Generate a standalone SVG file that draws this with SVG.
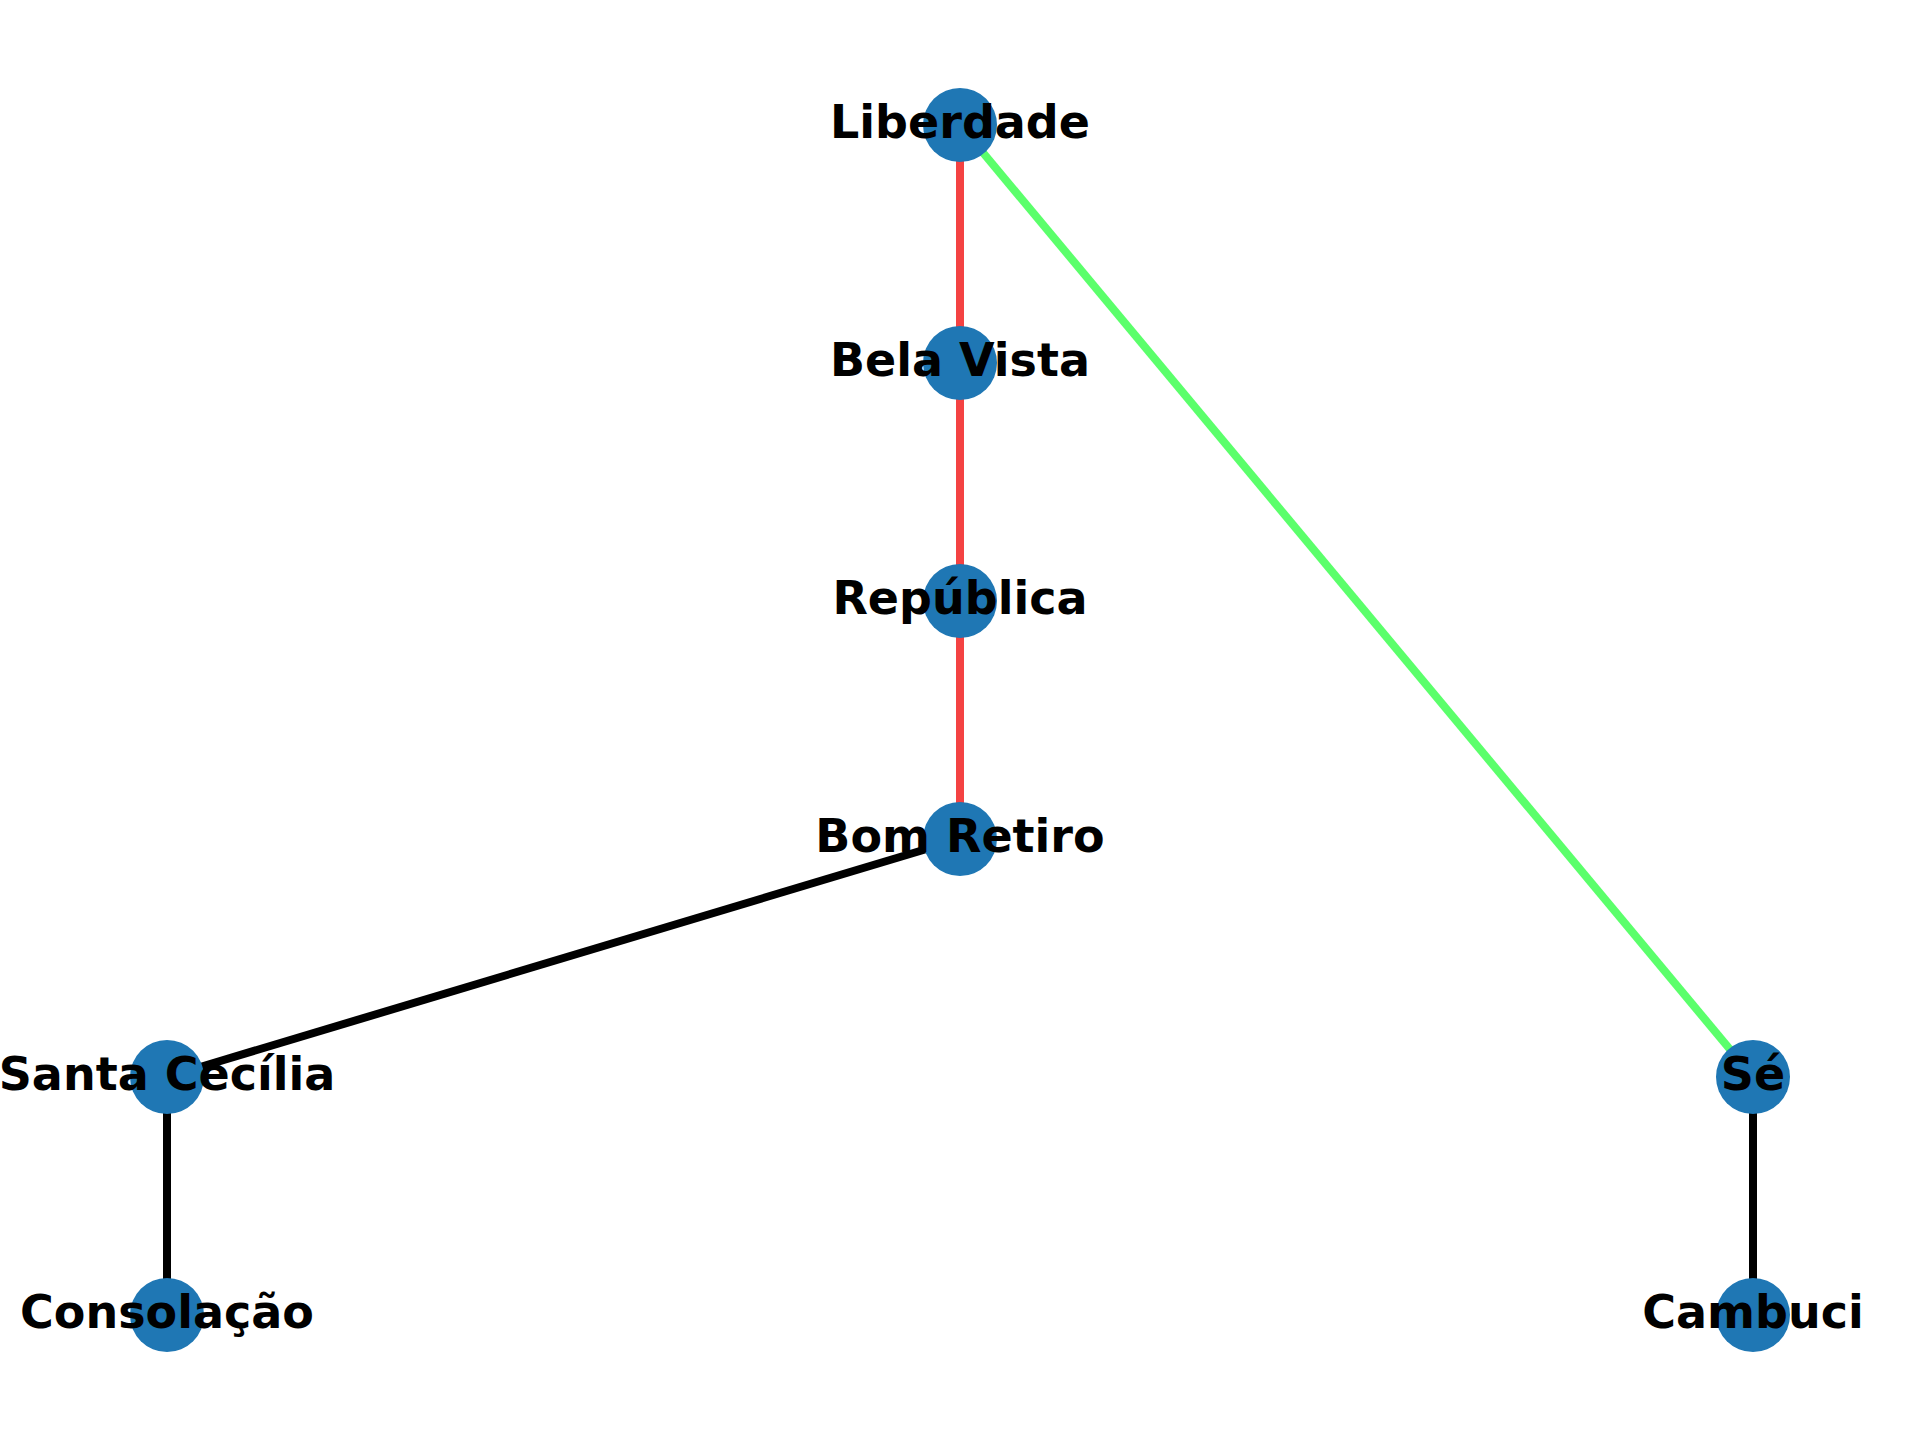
<svg xmlns="http://www.w3.org/2000/svg" width="1920" height="1440" viewBox="0 0 1920 1440">
<style>
.e{stroke-width:8;stroke-linecap:butt;fill:none}
.red{stroke:#f44242}
.green{stroke:#5bff6b}
.black{stroke:#000}
.n circle{fill:#1f77b4}
.n text{font-family:"DejaVu Sans",sans-serif;font-weight:bold;font-size:46px;fill:#000;text-anchor:middle}
</style>
<rect width="1920" height="1440" fill="#fff"/>
<g id="edges">
<line class="e red" x1="960" y1="125" x2="960" y2="363"/>
<line class="e red" x1="960" y1="363" x2="960" y2="601"/>
<line class="e red" x1="960" y1="601" x2="960" y2="839"/>
<line class="e green" x1="960" y1="125" x2="1753" y2="1077"/>
<line class="e black" x1="960" y1="839" x2="167" y2="1077"/>
<line class="e black" x1="167" y1="1077" x2="167" y2="1315"/>
<line class="e black" x1="1753" y1="1077" x2="1753" y2="1315"/>
</g>
<g id="liberdade" class="n"><circle cx="960" cy="125" r="37"/><text x="960" y="138">Liberdade</text></g>
<g id="bela-vista" class="n"><circle cx="960" cy="363" r="37"/><text x="960" y="376">Bela Vista</text></g>
<g id="republica" class="n"><circle cx="960" cy="601" r="37"/><text x="960" y="614">República</text></g>
<g id="bom-retiro" class="n"><circle cx="960" cy="839" r="37"/><text x="960" y="852">Bom Retiro</text></g>
<g id="santa-cecilia" class="n"><circle cx="167" cy="1077" r="37"/><text x="167" y="1090">Santa Cecília</text></g>
<g id="consolacao" class="n"><circle cx="167" cy="1315" r="37"/><text x="167" y="1328">Consolação</text></g>
<g id="se" class="n"><circle cx="1753" cy="1077" r="37"/><text x="1753" y="1090">Sé</text></g>
<g id="cambuci" class="n"><circle cx="1753" cy="1315" r="37"/><text x="1753" y="1328">Cambuci</text></g>
</svg>
